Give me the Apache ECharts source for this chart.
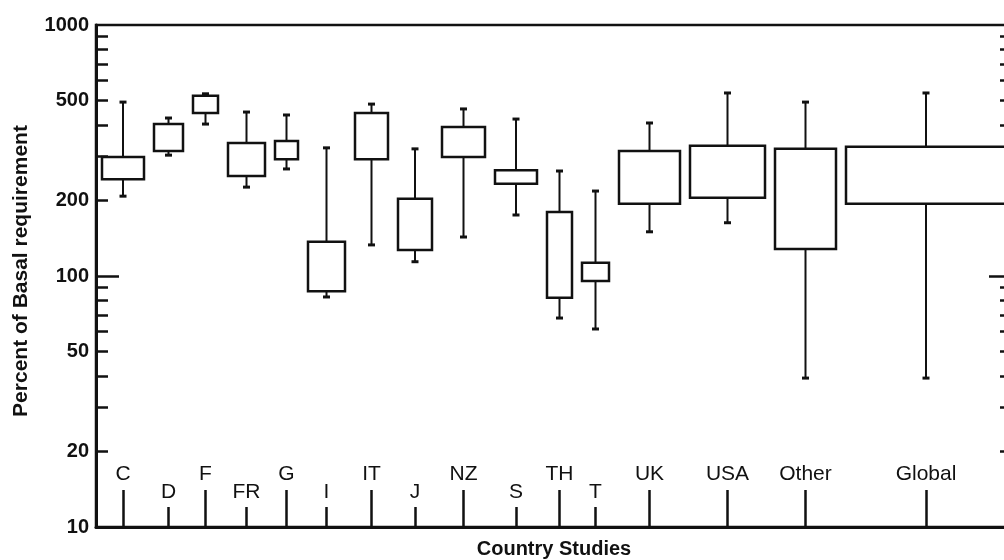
<!DOCTYPE html>
<html>
<head>
<meta charset="utf-8">
<title>Percent of Basal requirement by country study</title>
<script src="https://cdn.jsdelivr.net/npm/echarts@6/dist/echarts.min.js"></script>
<style>
    html, body { margin: 0; padding: 0; background: #fff; }
    #chart { width: 1004px; height: 560px; }
</style>
</head>
<body>
<div id="chart"></div>
<script>
// country studies, left to right
var studies = ['C', 'D', 'F', 'FR', 'G', 'I', 'IT', 'J', 'NZ', 'S', 'TH', 'T', 'UK', 'USA', 'Other', 'Global'];
// relative box widths as drawn in the original
var boxWidths = [42, 29, 25, 37, 23, 37, 33, 34, 43, 42, 25, 27, 61, 75, 61, 160];
// percent of basal requirement
var whiskerHigh   = [493, 426, 532, 450, 438, 324, 484, 321, 463, 422, 262, 218, 407, 536, 493, 536];
var upperQuartile = [298, 403, 522, 339, 345, 137, 446, 203, 392, 264, 180, 113, 315, 330, 321, 327];
var lowerQuartile = [243, 315, 446, 250, 292, 87, 292, 127, 298, 233, 82, 95.5, 194, 205, 128, 194];
var whiskerLow    = [208, 303, 403, 226, 267, 82.5, 133, 114, 143, 175, 68, 61.5, 150, 163, 39.2, 39.2];

var yLabels = [10, 20, 50, 100, 200, 500, 1000];
var yTicks = [20, 30, 40, 50, 60, 70, 80, 90, 200, 300, 400, 500, 600, 700, 800, 900];

window.onload = function () {
    var ink = '#111';
    var font = '"Liberation Sans", Arial, sans-serif';
    var gap = 10, edge = 6;

    // lay boxes side by side, constant gap
    var centers = [];
    var pos = edge;
    boxWidths.forEach(function (w, i) {
        if (i > 0) pos += gap;
        centers.push(pos + w / 2);
        pos += w;
    });
    var xMax = pos + edge;

    // short-tick (lower) labels alternate among the narrow studies
    var upperCenters = [], lowerCenters = [];
    centers.forEach(function (c, i) {
        if (i % 2 === 1 && i < 12) lowerCenters.push(c);
        else upperCenters.push(c);
    });

    function nameAt(v) {
        for (var i = 0; i < centers.length; i++) {
            if (Math.abs(centers[i] - v) < 1e-6) return studies[i];
        }
        return '';
    }

    var boxData = studies.map(function (s, i) {
        return [centers[i], boxWidths[i], whiskerLow[i], lowerQuartile[i], upperQuartile[i], whiskerHigh[i]];
    });

    function renderBox(params, api) {
        var x = api.value(0);
        var lo = api.coord([x, api.value(2)]);
        var q1 = api.coord([x, api.value(3)]);
        var q3 = api.coord([x, api.value(4)]);
        var hi = api.coord([x, api.value(5)]);
        var half = api.size([api.value(1), 1], [x, 100])[0] / 2;
        var cap = 3.5;
        var wl = { stroke: ink, lineWidth: 2 };
        var cl = { stroke: ink, lineWidth: 3 };
        return {
            type: 'group',
            children: [
                { type: 'line', shape: { x1: lo[0], y1: lo[1], x2: lo[0], y2: q1[1] }, style: wl },
                { type: 'line', shape: { x1: hi[0], y1: hi[1], x2: hi[0], y2: q3[1] }, style: wl },
                { type: 'line', shape: { x1: lo[0] - cap, y1: lo[1], x2: lo[0] + cap, y2: lo[1] }, style: cl },
                { type: 'line', shape: { x1: hi[0] - cap, y1: hi[1], x2: hi[0] + cap, y2: hi[1] }, style: cl },
                {
                    type: 'rect',
                    shape: { x: q3[0] - half, y: q3[1], width: half * 2, height: q1[1] - q3[1] },
                    style: { fill: '#fff', stroke: ink, lineWidth: 2.5 }
                }
            ]
        };
    }

    function logAxis(position, opts) {
        var a = {
            type: 'log', logBase: 10, min: 10, max: 1000, position: position,
            axisLine: { show: false, onZero: false },
            axisTick: { show: false },
            axisLabel: { show: false },
            minorTick: { show: false },
            splitLine: { show: false }
        };
        for (var k in opts) a[k] = opts[k];
        return a;
    }

    var tickStyle = { color: ink, width: 2.5 };

    var option = {
        animation: false,
        backgroundColor: '#fff',
        grid: {
            left: 96, top: 25, width: 916, height: 502,
            outerBoundsMode: 'none', containLabel: false,
            show: true, borderColor: ink, borderWidth: 2.5, backgroundColor: 'transparent'
        },
        xAxis: [
            {
                type: 'value', min: 0, max: xMax, position: 'bottom',
                axisLine: { show: true, onZero: false, lineStyle: { color: ink, width: 3 } },
                axisTick: { show: true, inside: true, length: 37, customValues: upperCenters, lineStyle: tickStyle },
                axisLabel: {
                    show: true, inside: true, margin: 42, customValues: upperCenters, formatter: nameAt,
                    color: ink, fontSize: 21, fontFamily: font
                },
                splitLine: { show: false },
                name: 'Country Studies', nameLocation: 'middle', nameGap: 12,
                nameTextStyle: { color: ink, fontSize: 20, fontWeight: 'bold', fontFamily: font, verticalAlign: 'top' }
            },
            {
                type: 'value', min: 0, max: xMax, position: 'bottom',
                axisLine: { show: false, onZero: false },
                axisTick: { show: true, inside: true, length: 20, customValues: lowerCenters, lineStyle: tickStyle },
                axisLabel: {
                    show: true, inside: true, margin: 24, customValues: lowerCenters, formatter: nameAt,
                    color: ink, fontSize: 21, fontFamily: font
                },
                splitLine: { show: false }
            }
        ],
        yAxis: [
            logAxis('left', {
                axisLine: { show: true, onZero: false, lineStyle: { color: ink, width: 3 } },
                axisTick: { show: true, inside: true, length: 12, customValues: yTicks, lineStyle: tickStyle },
                axisLabel: {
                    show: true, customValues: yLabels, margin: 7,
                    formatter: function (v) { return String(Math.round(v)); },
                    color: ink, fontSize: 20, fontWeight: 'bold', fontFamily: font
                },
                name: 'Percent of Basal requirement', nameLocation: 'middle', nameGap: 64, nameRotate: 90,
                nameTextStyle: { color: ink, fontSize: 21, fontWeight: 'bold', fontFamily: font, padding: [0, 0, 0, 10] }
            }),
            logAxis('left', {
                axisTick: { show: true, inside: true, length: 23, customValues: [100], lineStyle: tickStyle }
            }),
            logAxis('right', {
                axisTick: { show: true, inside: true, length: 12, customValues: yTicks, lineStyle: tickStyle }
            }),
            logAxis('right', {
                axisTick: { show: true, inside: true, length: 23, customValues: [100], lineStyle: tickStyle }
            })
        ],
        series: [{
            type: 'custom',
            xAxisIndex: 0,
            yAxisIndex: 0,
            renderItem: renderBox,
            encode: { x: 0, y: [2, 3, 4, 5] },
            data: boxData,
            z: 5
        }]
    };

    var chart = echarts.init(document.getElementById('chart'));
    chart.setOption(option);
};
</script>
</body>
</html>
